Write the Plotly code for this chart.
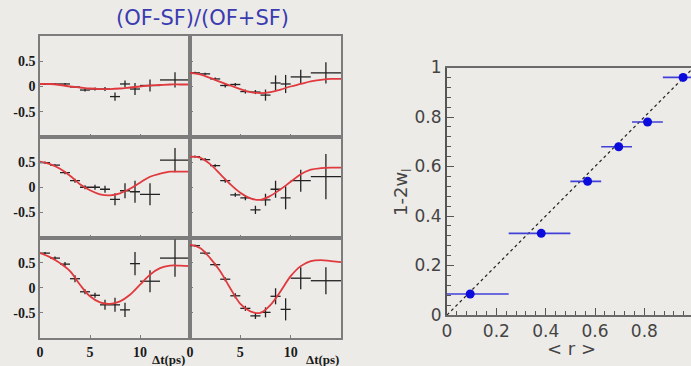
import plotly.graph_objects as go

W, H = 691, 366
BG = "#edebe8"

# ---------------- left: asymmetry panels ----------------
t_centers = [0.5, 1.5, 2.5, 3.5, 4.5, 5.5, 6.5, 7.5, 8.5, 9.5, 11.0, 13.5]
t_halfw = [0.5, 0.5, 0.5, 0.5, 0.5, 0.5, 0.5, 0.5, 0.5, 0.5, 1.0, 1.5]
t_curve = [0, 1, 2, 3, 4, 5, 6, 7, 8, 9, 10, 11, 12, 13, 14, 15]

p11_y = [0.05, 0.05, 0.05, -0.01, -0.07, -0.05, -0.05, -0.20, 0.05, -0.05, 0.02, 0.13]
p11_dy = [0.02, 0.02, 0.02, 0.02, 0.03, 0.03, 0.04, 0.08, 0.07, 0.12, 0.12, 0.15]
p12_y = [0.27, 0.25, 0.15, 0.02, 0.04, -0.10, -0.11, -0.17, 0.07, 0.05, 0.19, 0.27]
p12_dy = [0.02, 0.02, 0.03, 0.04, 0.03, 0.04, 0.04, 0.11, 0.15, 0.18, 0.14, 0.21]
p21_y = [0.49, 0.44, 0.29, 0.13, 0.0, 0.0, -0.04, -0.24, -0.07, -0.09, -0.14, 0.54]
p21_dy = [0.02, 0.02, 0.03, 0.04, 0.04, 0.05, 0.07, 0.12, 0.15, 0.22, 0.22, 0.24]
p22_y = [0.61, 0.55, 0.43, 0.13, -0.15, -0.21, -0.45, -0.25, -0.04, -0.21, 0.13, 0.21]
p22_dy = [0.02, 0.03, 0.03, 0.04, 0.04, 0.05, 0.08, 0.12, 0.17, 0.23, 0.22, 0.45]
p31_y = [0.69, 0.59, 0.47, 0.18, -0.08, -0.15, -0.34, -0.34, -0.44, 0.48, 0.13, 0.59]
p31_dy = [0.02, 0.03, 0.04, 0.07, 0.05, 0.05, 0.10, 0.14, 0.14, 0.23, 0.22, 0.37]
p32_y = [0.84, 0.69, 0.46, 0.17, -0.16, -0.41, -0.56, -0.49, -0.17, -0.43, 0.19, 0.14]
p32_dy = [0.02, 0.03, 0.03, 0.04, 0.05, 0.05, 0.06, 0.10, 0.16, 0.22, 0.22, 0.27]

c11 = [0.05, 0.05, 0.03, 0.0, -0.02, -0.04, -0.05, -0.05, -0.04, -0.02, 0.0, 0.02, 0.03, 0.04, 0.04, 0.04]
c12 = [0.27, 0.24, 0.17, 0.09, 0.02, -0.05, -0.11, -0.13, -0.11, -0.06, 0.0, 0.05, 0.10, 0.13, 0.15, 0.15]
c21 = [0.51, 0.46, 0.37, 0.23, 0.06, -0.06, -0.14, -0.16, -0.12, -0.03, 0.09, 0.21, 0.27, 0.31, 0.31, 0.31]
c22 = [0.61, 0.59, 0.46, 0.26, 0.06, -0.11, -0.22, -0.25, -0.17, -0.04, 0.11, 0.26, 0.35, 0.38, 0.39, 0.39]
c31 = [0.69, 0.61, 0.49, 0.33, 0.06, -0.17, -0.29, -0.32, -0.27, -0.14, 0.06, 0.26, 0.39, 0.44, 0.44, 0.43]
c32 = [0.86, 0.79, 0.59, 0.33, -0.01, -0.32, -0.47, -0.50, -0.34, -0.07, 0.23, 0.43, 0.53, 0.55, 0.53, 0.51]

y_ticks = [-0.5, 0, 0.5]
y_ticklabels = ["-0.5", "0", "0.5"]
x_ticks = [0, 5, 10]
x_ticklabels = ["0", "5", "10"]

# ---------------- right: dilution ----------------
r_centers = [0.094, 0.382, 0.570, 0.696, 0.813, 0.957]
r_lo = [0.0, 0.25, 0.5, 0.625, 0.75, 0.875]
r_hi = [0.25, 0.5, 0.625, 0.75, 0.875, 1.0]
dil = [0.085, 0.33, 0.54, 0.68, 0.78, 0.96]
dil_err = [0.01, 0.012, 0.012, 0.01, 0.01, 0.01]
diag = [0.0, 1.0]
r_ticks = [0, 0.2, 0.4, 0.6, 0.8]
r_ticklabels = ["0", "0.2", "0.4", "0.6", "0.8"]
d_ticks = [0, 0.2, 0.4, 0.6, 0.8, 1.0]
d_ticklabels = ["0", "0.2", "0.4", "0.6", "0.8", "1"]

fig = go.Figure()

panels = [
    (p11_y, p11_dy, c11), (p12_y, p12_dy, c12),
    (p21_y, p21_dy, c21), (p22_y, p22_dy, c22),
    (p31_y, p31_dy, c31), (p32_y, p32_dy, c32),
]

xcols = [(40, 190), (190, 341)]
yrows = [(36, 137), (137, 237.5), (237.5, 338)]

FRAME = "#7c7c7c"
SERIF = dict(family="Liberation Serif", size=14, color="#1a1a1a", weight="bold")
layout_axes = {}
for i, (py, pdy, cy) in enumerate(panels):
    n = i + 1
    row, col = divmod(i, 2)
    xa = "x" if n == 1 else f"x{n}"
    ya = "y" if n == 1 else f"y{n}"
    fig.add_trace(go.Scatter(
        x=t_centers, y=py, xaxis=xa, yaxis=ya, mode="markers",
        marker=dict(size=1, color="rgba(0,0,0,0)"),
        error_x=dict(type="data", array=t_halfw, color="#222222", thickness=1.3, width=0),
        error_y=dict(type="data", array=pdy, color="#222222", thickness=1.3, width=0),
        showlegend=False, hoverinfo="skip"))
    fig.add_trace(go.Scatter(
        x=t_curve, y=cy, xaxis=xa, yaxis=ya, mode="lines",
        line=dict(color="#e0393e", width=1.8, shape="spline", smoothing=1.0),
        showlegend=False, hoverinfo="skip"))
    x0, x1 = xcols[col]
    y0, y1 = yrows[row]
    xkey = "xaxis" if n == 1 else f"xaxis{n}"
    ykey = "yaxis" if n == 1 else f"yaxis{n}"
    layout_axes[xkey] = dict(
        domain=[x0 / W, x1 / W], range=[0, 15], anchor=ya, automargin=False,
        showgrid=False, zeroline=False, showline=True, mirror=True,
        linecolor=FRAME, linewidth=1.5,
        tickvals=x_ticks, ticktext=x_ticklabels, showticklabels=(row == 2),
        ticks="inside", ticklen=3, tickcolor=FRAME, tickfont=SERIF,
    )
    layout_axes[ykey] = dict(
        domain=[1 - y1 / H, 1 - y0 / H], range=[-1, 1], anchor=xa, automargin=False,
        showgrid=False, zeroline=False, showline=True, mirror=True,
        linecolor=FRAME, linewidth=1.5,
        tickvals=y_ticks, ticktext=y_ticklabels, showticklabels=(col == 0),
        ticks="inside", ticklen=3, tickcolor=FRAME, tickfont=SERIF,
    )

# right panel traces
fig.add_trace(go.Scatter(
    x=diag, y=diag, xaxis="x7", yaxis="y7", mode="lines",
    line=dict(color="#222222", width=1.2, dash="dot"),
    showlegend=False, hoverinfo="skip"))
fig.add_trace(go.Scatter(
    x=r_centers, y=dil, xaxis="x7", yaxis="y7", mode="markers",
    marker=dict(size=9, color="#0b0bdc"),
    error_x=dict(type="data", symmetric=False,
                 array=[h - c for h, c in zip(r_hi, r_centers)],
                 arrayminus=[c - l for c, l in zip(r_centers, r_lo)],
                 color="#4040d8", thickness=1.6, width=0),
    error_y=dict(type="data", array=dil_err, color="#4040d8", thickness=1.6, width=0),
    showlegend=False, hoverinfo="skip", cliponaxis=False))

RX0, RY0, RY1 = 447, 67.5, 315
SANS = dict(family="DejaVu Sans", size=17, color="#444444")
layout_axes["xaxis7"] = dict(
    domain=[RX0 / W, 1.0], range=[0, (W - RX0) / 246.7], anchor="y7", automargin=False,
    showgrid=False, zeroline=False, showline=True, mirror=True,
    linecolor="#6a6a6a", linewidth=2,
    tickvals=r_ticks, ticktext=r_ticklabels,
    ticks="inside", ticklen=7, tickwidth=1.2, tickcolor="#555555",
    minor=dict(dtick=0.04, tick0=0, ticks="inside", ticklen=4, tickcolor="#555555"),
    tickfont=SANS,
)
layout_axes["yaxis7"] = dict(
    domain=[1 - RY1 / H, 1 - RY0 / H], range=[0, 1], anchor="x7", automargin=False,
    showgrid=False, zeroline=False, showline=True, mirror=False,
    linecolor="#555555", linewidth=2,
    tickvals=d_ticks, ticktext=d_ticklabels,
    ticks="inside", ticklen=7, tickwidth=1.2, tickcolor="#555555",
    minor=dict(dtick=0.04, tick0=0, ticks="inside", ticklen=4, tickcolor="#555555"),
    tickfont=SANS,
)


def ann(text, px, py, font, angle=0):
    return dict(text=text, x=px / W, y=1 - py / H, xref="paper", yref="paper",
                xanchor="center", yanchor="middle", showarrow=False,
                textangle=angle, font=font)


BOLD13 = dict(family="Liberation Serif", size=13, color="#1a1a1a", weight="bold")
annotations = [
    ann("(OF-SF)/(OF+SF)", 202, 18, dict(family="DejaVu Sans", size=21, color="#3b3bb0")),
    ann("Δt(ps)", 168, 359, BOLD13),
    ann("Δt(ps)", 322, 359, BOLD13),
    ann("1-2w<sub>l</sub>", 402, 192, dict(family="DejaVu Sans", size=18, color="#444444"), -90),
    ann("&lt; r &gt;", 571, 348, dict(family="DejaVu Sans", size=18, color="#444444")),
]

fig.update_layout(
    width=W, height=H,
    margin=dict(l=0, r=0, t=0, b=0, pad=0),
    paper_bgcolor=BG, plot_bgcolor=BG,
    annotations=annotations,
    **layout_axes,
)

fig.write_html("out.html")
